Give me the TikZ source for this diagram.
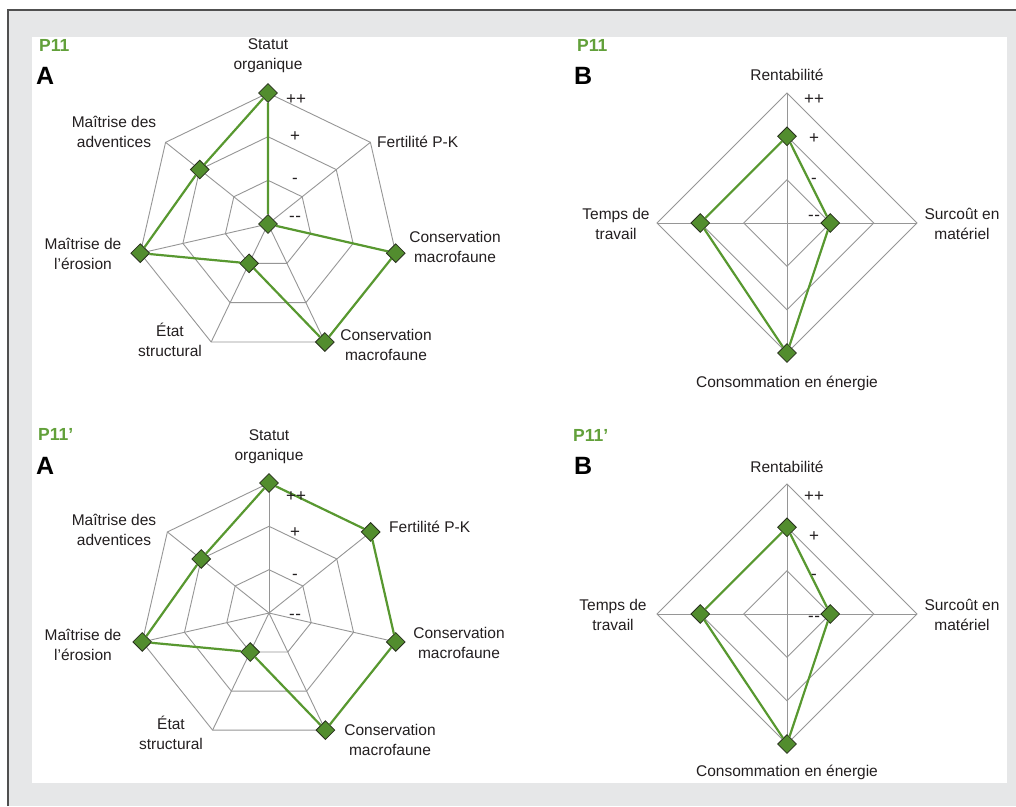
\documentclass[tikz,border=0pt]{standalone}
\usepackage{fontspec}
\setmainfont{Liberation Sans}
\usetikzlibrary{shapes.geometric}
\definecolor{bggray}{RGB}{230,231,232}
\definecolor{bordergray}{RGB}{80,80,80}
\definecolor{gridgray}{RGB}{150,150,150}
\definecolor{linegreen}{RGB}{88,152,48}
\definecolor{ptgreen}{RGB}{82,141,46}
\definecolor{ptedge}{RGB}{40,48,30}
\definecolor{titlegreen}{RGB}{98,160,58}
\definecolor{textdark}{RGB}{35,31,32}
\begin{document}
\begin{tikzpicture}[x=1pt,y=-1pt]
\tikzstyle{grid}=[draw=gridgray,line width=0.9pt]
\tikzstyle{point}=[diamond,draw=ptedge,fill=ptgreen,line width=0.8pt,minimum size=19pt,inner sep=0pt]
\tikzstyle{dataline}=[draw=linegreen,line width=2.2pt]
\tikzstyle{axislabel}=[font=\fontsize{15.5}{20}\selectfont,align=center,text=textdark,inner sep=0pt]
\tikzstyle{scalelabel}=[font=\fontsize{17}{18}\selectfont,text=textdark,inner sep=0pt]
\tikzstyle{plotname}=[font=\bfseries\fontsize{17.5}{20}\selectfont,text=titlegreen,anchor=west,inner sep=0pt]
\tikzstyle{panel}=[font=\bfseries\fontsize{25}{28}\selectfont,text=black,anchor=west,inner sep=0pt]

\useasboundingbox (0,0) rectangle (1016,806);
\fill[bggray] (8,10) rectangle (1016,806);
\draw[bordergray,line width=2pt] (8,806) -- (8,10) -- (1016,10);
\fill[white] (32,37) rectangle (1007,783);

% P11, A
\node[plotname] (t1) at (39,45) {P11};
\node[panel] (t2) at (36,76) {A};
\begin{scope}[shift={(268,224)}]
\foreach \a in {0,...,6} \draw[grid] (0,0) -- (90-\a*360/7:131pt);
\foreach \r in {43.7,87.3,131} \draw[grid] (90:\r pt) \foreach \a in {1,...,6}{-- (90-\a*360/7:\r pt)} -- cycle;
\node[point] (a1) at (90:131pt) {};
\node[point] (a2) at (0,0) {};
\node[point] (a3) at (90-2*360/7:131pt) {};
\node[point] (a4) at (90-3*360/7:131pt) {};
\node[point] (a5) at (90-4*360/7:43.7pt) {};
\node[point] (a6) at (90-5*360/7:131pt) {};
\node[point] (a7) at (90-6*360/7:87.3pt) {};
\end{scope}
\draw[dataline] (a1) -- (a2) -- (a3) -- (a4) -- (a5) -- (a6) -- (a7) -- (a1);
\node[scalelabel] (sa1) at (296,100) {++};
\node[scalelabel] (sa2) at (295,137) {+};
\node[scalelabel] (sa3) at (295,181) {-};
\node[scalelabel] (sa4) at (295,219) {-\kern0.6pt-};
\node[axislabel] (la1) at (268,56) {Statut\\organique};
\node[axislabel,anchor=west] (la2) at (377,142) {Fertilité P-K};
\node[axislabel] (la3) at (455,247) {Conservation\\macrofaune};
\node[axislabel] (la4) at (386,345) {Conservation\\macrofaune};
\node[axislabel] (la5) at (170,340) {État\\structural};
\node[axislabel] (la6) at (83,254) {Maîtrise de\\l’érosion};
\node[axislabel] (la7) at (114,132) {Maîtrise des\\adventices};

% P11, B
\node[plotname] (t3) at (577,45) {P11};
\node[panel] (t4) at (574,76) {B};
\begin{scope}[shift={(787,223)}]
\draw[grid] (-130,0) -- (130,0);
\draw[grid] (0,-130) -- (0,130);
\foreach \r in {43.3,86.7,130} \draw[grid] (0,-\r) -- (\r,0) -- (0,\r) -- (-\r,0) -- cycle;
\node[point] (b1) at (0,-86.7) {};
\node[point] (b2) at (43.3,0) {};
\node[point] (b3) at (0,130) {};
\node[point] (b4) at (-86.7,0) {};
\end{scope}
\draw[dataline] (b1) -- (b2) -- (b3) -- (b4) -- (b1);
\node[scalelabel] (sb1) at (814,100) {++};
\node[scalelabel] (sb2) at (814,139) {+};
\node[scalelabel] (sb3) at (814,181) {-};
\node[scalelabel] (sb4) at (814,218) {-\kern0.6pt-};
\node[axislabel] (lb1) at (787,75) {Rentabilité};
\node[axislabel] (lb2) at (962,224) {Surcoût en\\matériel};
\node[axislabel] (lb3) at (787,383) {Consommation en énergie};
\node[axislabel] (lb4) at (616,224) {Temps de\\travail};

% P11', A
\node[plotname] (t5) at (38,434) {P11’};
\node[panel] (t6) at (36,466) {A};
\begin{scope}[shift={(269,613)}]
\foreach \a in {0,...,6} \draw[grid] (0,0) -- (90-\a*360/7:130pt);
\foreach \r in {43.3,86.7,130} \draw[grid] (90:\r pt) \foreach \a in {1,...,6}{-- (90-\a*360/7:\r pt)} -- cycle;
\node[point] (c1) at (90:130pt) {};
\node[point] (c2) at (90-360/7:130pt) {};
\node[point] (c3) at (90-2*360/7:130pt) {};
\node[point] (c4) at (90-3*360/7:130pt) {};
\node[point] (c5) at (90-4*360/7:43.3pt) {};
\node[point] (c6) at (90-5*360/7:130pt) {};
\node[point] (c7) at (90-6*360/7:86.7pt) {};
\end{scope}
\draw[dataline] (c1) -- (c2) -- (c3) -- (c4) -- (c5) -- (c6) -- (c7) -- (c1);
\node[scalelabel] (sc1) at (296,497) {++};
\node[scalelabel] (sc2) at (295,533) {+};
\node[scalelabel] (sc3) at (295,577) {-};
\node[scalelabel] (sc4) at (295,617) {-\kern0.6pt-};
\node[axislabel] (lc1) at (269,447) {Statut\\organique};
\node[axislabel,anchor=west] (lc2) at (389,527) {Fertilité P-K};
\node[axislabel] (lc3) at (459,643) {Conservation\\macrofaune};
\node[axislabel] (lc4) at (390,740) {Conservation\\macrofaune};
\node[axislabel] (lc5) at (171,733) {État\\structural};
\node[axislabel] (lc6) at (83,645) {Maîtrise de\\l’érosion};
\node[axislabel] (lc7) at (114,530) {Maîtrise des\\adventices};

% P11', B
\node[plotname] (t7) at (573,435) {P11’};
\node[panel] (t8) at (574,466) {B};
\begin{scope}[shift={(787,614)}]
\draw[grid] (-130,0) -- (130,0);
\draw[grid] (0,-130) -- (0,130);
\foreach \r in {43.3,86.7,130} \draw[grid] (0,-\r) -- (\r,0) -- (0,\r) -- (-\r,0) -- cycle;
\node[point] (d1) at (0,-86.7) {};
\node[point] (d2) at (43.3,0) {};
\node[point] (d3) at (0,130) {};
\node[point] (d4) at (-86.7,0) {};
\end{scope}
\draw[dataline] (d1) -- (d2) -- (d3) -- (d4) -- (d1);
\node[scalelabel] (sd1) at (814,497) {++};
\node[scalelabel] (sd2) at (814,537) {+};
\node[scalelabel] (sd3) at (814,577) {-};
\node[scalelabel] (sd4) at (814,619) {-\kern0.6pt-};
\node[axislabel] (ld1) at (787,467) {Rentabilité};
\node[axislabel] (ld2) at (962,615) {Surcoût en\\matériel};
\node[axislabel] (ld3) at (787,772) {Consommation en énergie};
\node[axislabel] (ld4) at (613,615) {Temps de\\travail};
\end{tikzpicture}
\end{document}
